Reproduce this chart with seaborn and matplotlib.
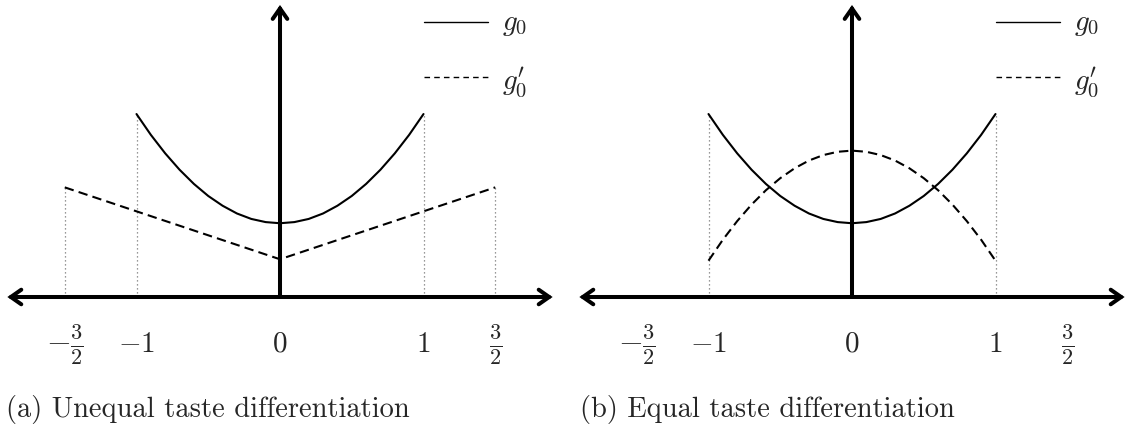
import matplotlib
matplotlib.use("Agg")
import matplotlib.pyplot as plt
import numpy as np
import pandas as pd
import seaborn as sns

sns.set_style("white")
plt.rcParams["mathtext.fontset"] = "cm"
plt.rcParams["font.family"] = ["cmr10", "DejaVu Serif"]

# Sample grid for the smooth curves
grid = [-1.0, -0.9, -0.8, -0.7, -0.6, -0.5, -0.4, -0.3, -0.2, -0.1, 0.0,
        0.1, 0.2, 0.3, 0.4, 0.5, 0.6, 0.7, 0.8, 0.9, 1.0]

# g0 (same in both panels)
g0 = [1.275, 1.130, 1.001, 0.887, 0.788, 0.704, 0.636, 0.582, 0.544, 0.522, 0.514,
      0.522, 0.544, 0.582, 0.636, 0.704, 0.788, 0.887, 1.001, 1.130, 1.275]

# g0' for unequal taste differentiation (kinked line)
x_unequal = [-1.5, 0.0, 1.5]
g0p_unequal = [0.764, 0.263, 0.764]

# g0' for equal taste differentiation (concave curve)
g0p_equal = [0.253, 0.399, 0.529, 0.644, 0.744, 0.828, 0.897, 0.951, 0.989, 1.012, 1.020,
             1.012, 0.989, 0.951, 0.897, 0.828, 0.744, 0.644, 0.529, 0.399, 0.253]

tick_values = [-1.5, -1.0, 0.0, 1.0, 1.5]
tick_labels = [r"$-\frac{3}{2}$", r"$-1$", r"$0$", r"$1$", r"$\frac{3}{2}$"]

captions = ["(a) Unequal taste differentiation", "(b) Equal taste differentiation"]

W, H = 1138, 432
fig = plt.figure(figsize=(W / 100, H / 100), dpi=100)

unit = 143.5           # pixels per data unit
y_axis_px = 297        # pixel row of the horizontal axis
centers_px = [280, 852]
caption_px = [6, 580]
x_half = 1.96
y_top = y_axis_px / unit
y_bot = -(H - y_axis_px) / unit


def make_axes(cx):
    left = (cx - x_half * unit) / W
    width = 2 * x_half * unit / W
    ax = fig.add_axes([left, 0, width, 1])
    return ax


def finish_axes(ax):
    ax.axis("off")
    ax.set_xlim(-x_half, x_half)
    ax.set_ylim(y_bot, y_top)


def draw_axes_arrows(ax):
    style = dict(lw=2.9, color="black", shrinkA=0, shrinkB=0,
                 mutation_scale=15, joinstyle="miter")
    ax.annotate("", xy=(1.9, 0), xytext=(-1.9, 0),
                arrowprops=dict(arrowstyle="<->,head_length=0.5,head_width=0.35", **style),
                zorder=5)
    ax.annotate("", xy=(0, 2.035), xytext=(0, 0),
                arrowprops=dict(arrowstyle="->,head_length=0.5,head_width=0.35", **style),
                zorder=5)


def draw_guides(ax, xs, tops):
    for xv, tv in zip(xs, tops):
        ax.plot([xv, xv], [0, tv], color="#777777", lw=0.9,
                linestyle=(0, (1, 2.2)), zorder=1)


def draw_ticks(ax):
    for v, lab in zip(tick_values, tick_labels):
        size = 23 if "frac" in lab else 21
        ax.text(v, -0.33, lab, ha="center", va="center", fontsize=size)


def draw_legend(ax):
    ax.plot([1.0, 1.45], [1.916, 1.916], color="black", lw=1.0)
    ax.plot([1.0, 1.45], [1.533, 1.533], color="black", lw=1.0,
            linestyle=(0, (4, 3)))
    ax.text(1.55, 1.90, r"$g_0$", ha="left", va="center", fontsize=21)
    ax.text(1.55, 1.50, r"$g_0'$", ha="left", va="center", fontsize=21)


def draw_caption(ax, text, px):
    ax.text(px / W, (H - 410) / H, text, transform=fig.transFigure,
            ha="left", va="center", fontsize=20.5)


line_kw = dict(color="black", lw=1.5, zorder=3)
dash = (0, (4.5, 2.5))

# Panel (a)
ax1 = make_axes(centers_px[0])
df1 = pd.DataFrame({"x": grid, "g0": g0})
df1p = pd.DataFrame({"x": x_unequal, "g0p": g0p_unequal})
draw_guides(ax1, [-1.5, -1.0, 1.0, 1.5],
            [g0p_unequal[0], g0[0], g0[-1], g0p_unequal[-1]])
sns.lineplot(data=df1, x="x", y="g0", ax=ax1, **line_kw)
sns.lineplot(data=df1p, x="x", y="g0p", ax=ax1, linestyle=dash, **line_kw)
draw_axes_arrows(ax1)
draw_ticks(ax1)
draw_legend(ax1)
finish_axes(ax1)
draw_caption(ax1, captions[0], caption_px[0])

# Panel (b)
ax2 = make_axes(centers_px[1])
df2 = pd.DataFrame({"x": grid, "g0": g0, "g0p": g0p_equal})
draw_guides(ax2, [-1.0, 1.0], [g0[0], g0[-1]])
sns.lineplot(data=df2, x="x", y="g0", ax=ax2, **line_kw)
sns.lineplot(data=df2, x="x", y="g0p", ax=ax2, linestyle=dash, **line_kw)
draw_axes_arrows(ax2)
draw_ticks(ax2)
draw_legend(ax2)
finish_axes(ax2)
draw_caption(ax2, captions[1], caption_px[1])

fig.savefig("out.png", dpi=100)
